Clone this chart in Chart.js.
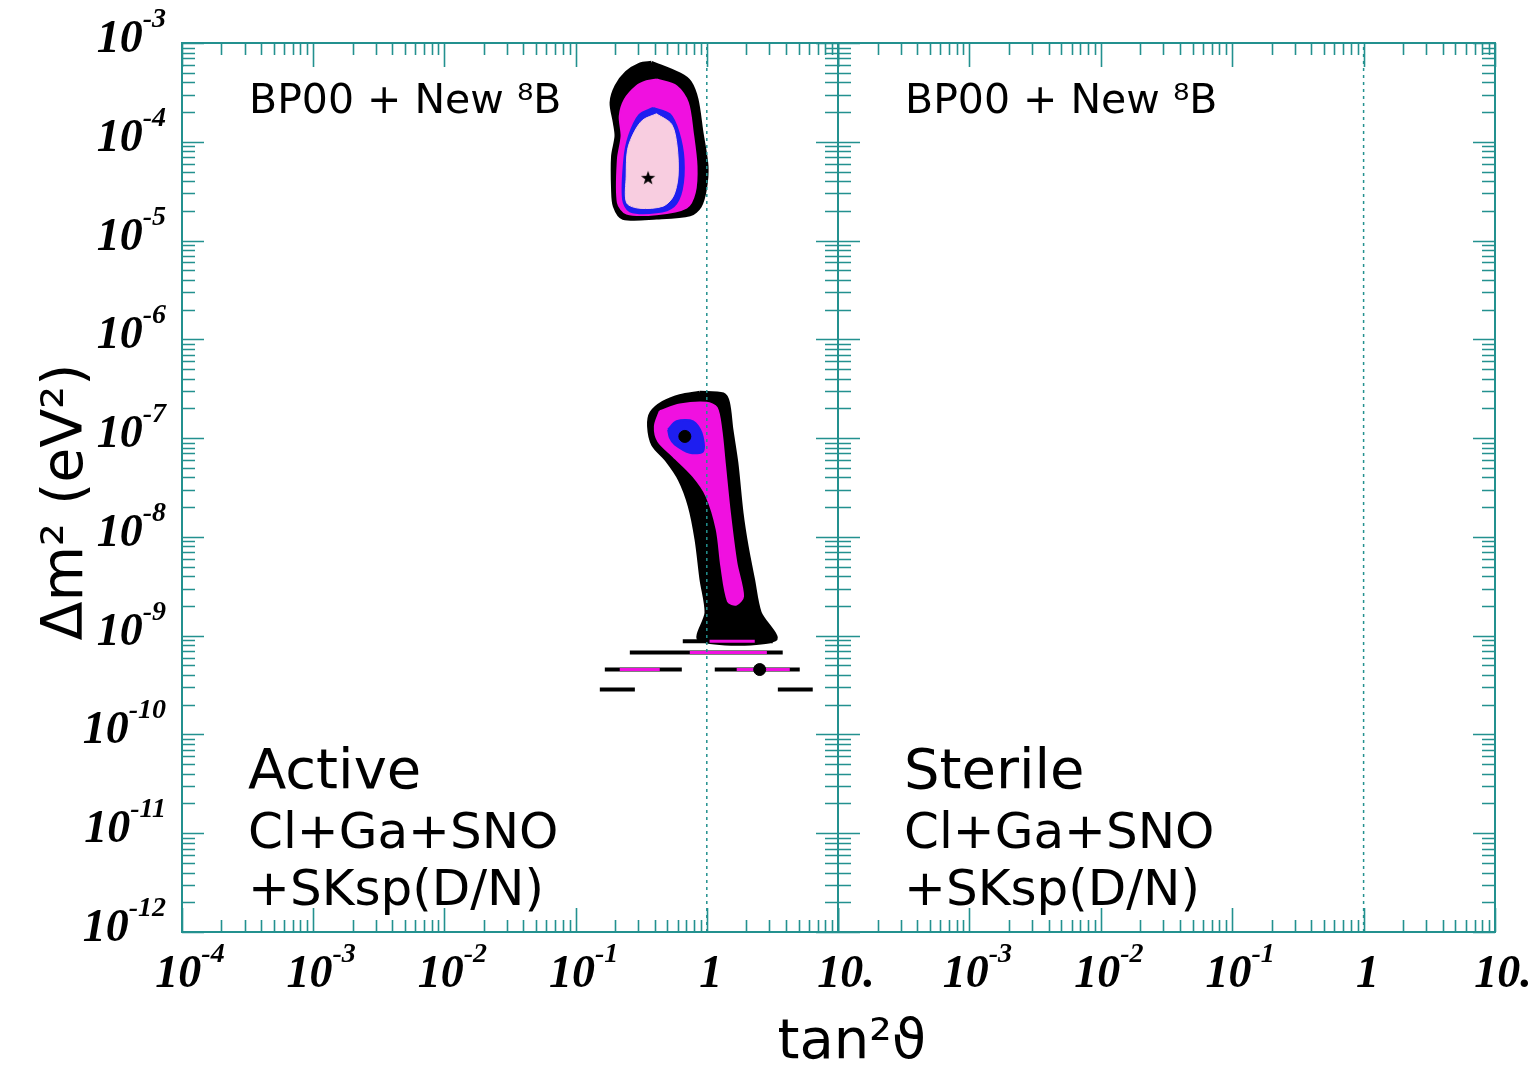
<!DOCTYPE html>
<html>
<head>
<meta charset="utf-8">
<script src="https://cdn.jsdelivr.net/npm/chart.js@4.4.0/dist/chart.umd.min.js"></script>
<style>
html, body { margin: 0; padding: 0; background: #fff; }
#wrap { position: relative; width: 1537px; height: 1069px; }
canvas { position: absolute; top: 0; }
#left { left: 0; }
#right { left: 700px; }
</style>
</head>
<body>
<div id="wrap">
  <canvas id="left" width="1537" height="1069"></canvas>
  <canvas id="right" width="837" height="1069"></canvas>
</div>
<script>
// axes ranges (tan^2 theta , delta m^2 in eV^2)
const xMin = 1e-4, xMax = 10;
const yMin = 1e-12, yMax = 1e-3;

// tick labels : [value, base, exponent]
const xLabelsLeft  = [[1e-4, '10', '-4'], [1e-3, '10', '-3'], [1e-2, '10', '-2'], [1e-1, '10', '-1'], [1, '1', ''], [10, '10.', '']];
const xLabelsRight = [[1e-3, '10', '-3'], [1e-2, '10', '-2'], [1e-1, '10', '-1'], [1, '1', ''], [10, '10.', '']];
const yLabels = [[1e-3, '10', '-3'], [1e-4, '10', '-4'], [1e-5, '10', '-5'], [1e-6, '10', '-6'], [1e-7, '10', '-7'],
                 [1e-8, '10', '-8'], [1e-9, '10', '-9'], [1e-10, '10', '-10'], [1e-11, '10', '-11'], [1e-12, '10', '-12']];

// maximal mixing line
const refX = 1;

// LMA island  (99.73% black, 99% magenta, 95% blue, 90% pink)
const upperBlack = [[0.379,6.3e-4],[0.623,4.8e-4],[0.742,4.0e-4],[0.835,2.68e-4],[0.911,1.24e-4],[0.995,5.66e-5],[0.966,3.29e-5],
  [0.884,2.23e-5],[0.742,1.84e-5],[0.414,1.71e-5],[0.230,1.70e-5],[0.199,2.23e-5],[0.193,3.29e-5],[0.193,7.15e-5],[0.205,1.14e-4],
  [0.199,1.57e-4],[0.188,2.50e-4],[0.205,3.65e-4],[0.245,4.99e-4],[0.309,6.06e-4]];
const upperMagenta = [[0.414,4.27e-4],[0.588,3.65e-4],[0.717,2.50e-4],[0.782,1.24e-4],[0.835,5.66e-5],[0.810,3.07e-5],[0.700,2.16e-5],
  [0.414,1.85e-5],[0.245,1.88e-5],[0.210,2.43e-5],[0.210,6.62e-5],[0.224,1.14e-4],[0.217,1.82e-4],[0.237,2.68e-4],[0.291,3.65e-4],[0.347,4.10e-4]];
const upperBlue = [[0.390,2.20e-4],[0.523,1.90e-4],[0.610,1.24e-4],[0.665,6.62e-5],[0.645,3.29e-5],[0.560,2.23e-5],[0.414,1.93e-5],
  [0.259,1.98e-5],[0.230,2.61e-5],[0.235,6.62e-5],[0.255,1.14e-4],[0.305,1.86e-4]];
const upperPink = [[0.414,1.92e-4],[0.540,1.50e-4],[0.594,9.02e-5],[0.604,4.49e-5],[0.556,2.81e-5],[0.465,2.23e-5],[0.309,2.12e-5],
  [0.245,2.41e-5],[0.243,4.49e-5],[0.249,8.35e-5],[0.280,1.26e-4],[0.325,1.66e-4]];

// LOW island
const lowBlack = [[0.884,2.88e-7],[1.33,2.77e-7],[1.45,2.28e-7],[1.54,1.22e-7],[1.68,5.62e-8],[1.84,1.75e-8],[2.01,8.05e-9],[2.25,3.71e-9],
  [2.53,1.71e-9],[3.30,9.15e-10],[0.884,9.15e-10],[0.995,1.71e-9],[0.911,3.71e-9],[0.835,9.42e-9],[0.742,2.05e-8],[0.623,3.81e-8],
  [0.493,6.07e-8],[0.390,8.61e-8],[0.363,1.32e-7],[0.379,1.80e-7],[0.465,2.28e-7],[0.623,2.66e-7]];
const lowMagenta = [[0.438,1.87e-7],[0.623,2.19e-7],[0.995,2.28e-7],[1.19,2.03e-7],[1.29,1.22e-7],[1.37,5.62e-8],[1.50,1.75e-8],[1.68,5.47e-9],
  [1.89,2.51e-9],[1.68,2.07e-9],[1.45,2.23e-9],[1.29,5.05e-9],[1.19,1.19e-8],[0.995,2.58e-8],[0.787,4.12e-8],[0.554,6.56e-8],[0.426,9.31e-8],[0.402,1.32e-7]];
const lowBlue = [[0.507,1.22e-7],[0.588,1.48e-7],[0.787,1.48e-7],[0.911,1.13e-7],[0.937,7.38e-8],[0.742,7.10e-8],[0.570,8.61e-8],[0.523,1.01e-7]];

// vacuum oscillation strips [xFrom, xTo, dm2]
const stripsBlack = [[0.656,3.18,8.79e-10],[0.259,3.79,6.76e-10],[0.167,0.645,4.54e-10],[1.15,5.11,4.54e-10],[0.153,0.283,2.85e-10],[3.48,6.42,2.85e-10]];
const stripsMagenta = [[1.05,2.32,8.79e-10],[0.742,2.87,6.76e-10],[0.217,0.438,4.54e-10],[1.69,4.29,4.54e-10]];

// best fit points
const bestStar = [[0.357,4.32e-5]];
const bestDots = [[0.680,1.04e-7],[2.53,4.54e-10]];

const teal = '#23918f';
const cBlack = '#000000', cMagenta = '#f010e0', cBlue = '#1e1ef0', cPink = '#f8cde0';

function pts(list) { return list.map(p => ({x: p[0], y: p[1]})); }

function region(list, color, order, bw) {
  return {data: pts(list.concat([list[0]])), showLine: true, fill: 'shape', backgroundColor: color,
    borderColor: color, borderWidth: bw, pointRadius: 0, tension: 0.3, order: order};
}
function strip(s, color, width, order) {
  return {data: [{x: s[0], y: s[2]}, {x: s[1], y: s[2]}], showLine: true, fill: false,
    borderColor: color, borderWidth: width, pointRadius: 0, order: order};
}
function refLine() {
  return {data: [{x: refX, y: yMin}, {x: refX, y: yMax}], showLine: true, fill: false, borderColor: teal,
    borderWidth: 1.5, borderDash: [3, 4], pointRadius: 0, order: -1};
}

// 5 point star marker
const starImg = document.createElement('canvas');
starImg.width = 16; starImg.height = 16;
(function () {
  const c = starImg.getContext('2d');
  c.beginPath();
  for (let i = 0; i < 10; i++) {
    const r = i % 2 ? 3 : 7.5, a = -Math.PI / 2 + i * Math.PI / 5;
    c.lineTo(8 + r * Math.cos(a), 8.5 + r * Math.sin(a));
  }
  c.closePath(); c.fillStyle = '#000'; c.fill();
})();

function logTicks(min, max) {
  const out = [];
  for (let e = Math.floor(Math.log10(min)); e <= Math.ceil(Math.log10(max)); e++) {
    for (let k = 1; k <= 9; k++) {
      const v = k * Math.pow(10, e);
      if (v < min * 0.999 || v > max * 1.001) continue;
      out.push({v: v, major: k === 1});
    }
  }
  return out;
}

const bigFont = 'italic bold 46px "Liberation Serif"';
const expFont = 'italic bold 28px "Liberation Serif"';

function powLabel(ctx, base, exp, x, y, align) {
  ctx.font = bigFont;
  const wb = ctx.measureText(base).width;
  ctx.font = expFont;
  const we = exp ? ctx.measureText(exp).width : 0;
  const x0 = align === 'right' ? x - wb - we : x - (wb + we) / 2;
  ctx.font = bigFont;
  ctx.fillText(base, x0, y);
  if (exp) { ctx.font = expFont; ctx.fillText(exp, x0 + wb, y - 25); }
}

const framePlugin = {
  id: 'frame',
  afterDraw(chart, args, o) {
    const ctx = chart.ctx, a = chart.chartArea, xs = chart.scales.x, ys = chart.scales.y;
    ctx.save();
    ctx.strokeStyle = teal;
    ctx.lineWidth = 2;
    ctx.strokeRect(a.left, a.top, a.right - a.left, a.bottom - a.top);
    ctx.lineWidth = 1.6;
    ctx.beginPath();
    logTicks(xs.min, xs.max).forEach(t => {
      const p = Math.round(xs.getPixelForValue(t.v)) + 0.5, len = t.major ? 24 : 12;
      ctx.moveTo(p, a.bottom); ctx.lineTo(p, a.bottom - len);
      ctx.moveTo(p, a.top); ctx.lineTo(p, a.top + len);
    });
    logTicks(ys.min, ys.max).forEach(t => {
      const p = Math.round(ys.getPixelForValue(t.v)) + 0.5, len = t.major ? 22 : 13;
      ctx.moveTo(a.left, p); ctx.lineTo(a.left + len, p);
      ctx.moveTo(a.right, p); ctx.lineTo(a.right - len, p);
    });
    ctx.stroke();

    ctx.fillStyle = '#000';
    ctx.textAlign = 'left';
    ctx.textBaseline = 'alphabetic';
    (o.xLabels || []).forEach(l => {
      const p = xs.getPixelForValue(l[0]);
      powLabel(ctx, l[1], l[2], p + (l[1] === '1' ? 4 : 8), a.bottom + 55, 'center');
    });
    (o.yLabels || []).forEach(l => {
      const p = ys.getPixelForValue(l[0]);
      powLabel(ctx, l[1], l[2], a.left - 16, p + 9, 'right');
    });

    (o.texts || []).forEach(t => {
      ctx.font = t.size + 'px "DejaVu Sans"';
      ctx.fillText(t.text, a.left + t.dx, t.y);
    });

    if (o.titles) {
      ctx.font = '57px "DejaVu Sans"';
      ctx.textAlign = 'center';
      ctx.save();
      ctx.translate(82, 502);
      ctx.rotate(-Math.PI / 2);
      ctx.fillText('Δm² (eV²)', 0, 0);
      ctx.restore();
      ctx.font = '56px "DejaVu Sans"';
      ctx.fillText('tan²ϑ', 852, 1058);
    }
    ctx.restore();
  }
};

function makeChart(id, datasets, frameOpts, target) {
  const canvas = document.getElementById(id);
  const padding = {left: target.left, top: target.top, right: canvas.width - target.right, bottom: canvas.height - target.bottom};
  const chart = new Chart(canvas, {
    type: 'scatter',
    data: {datasets: datasets},
    options: {
      responsive: false,
      animation: false,
      events: [],
      layout: {padding: padding},
      plugins: {legend: {display: false}, tooltip: {enabled: false}, frame: frameOpts},
      scales: {
        x: {type: 'logarithmic', min: xMin, max: xMax, display: false},
        y: {type: 'logarithmic', min: yMin, max: yMax, display: false}
      }
    },
    plugins: [framePlugin]
  });
  // put the plot box exactly where wanted
  const a = chart.chartArea, p = chart.options.layout.padding;
  if (a.left !== target.left || a.right !== target.right || a.top !== target.top || a.bottom !== target.bottom) {
    p.left += target.left - a.left; p.right += a.right - target.right;
    p.top += target.top - a.top; p.bottom += a.bottom - target.bottom;
    chart.update('none');
  }
  return chart;
}

const activeSets = [
  refLine(),
  {data: pts(bestStar), pointStyle: starImg, pointRadius: 8, showLine: false, order: 0},
  {data: pts(bestDots), pointStyle: 'circle', pointRadius: 6, backgroundColor: '#000', borderColor: '#000', showLine: false, order: 0},
  region(upperPink, cPink, 1, 1),
  region(upperBlue, cBlue, 2, 2),
  region(lowBlue, cBlue, 2, 2),
  region(upperMagenta, cMagenta, 3, 2),
  region(lowMagenta, cMagenta, 3, 2)
].concat(stripsMagenta.map(s => strip(s, cMagenta, 3, 3)))
 .concat([region(upperBlack, cBlack, 4, 4), region(lowBlack, cBlack, 4, 4)])
 .concat(stripsBlack.map(s => strip(s, cBlack, 4, 4)));

makeChart('left', activeSets, {
  xLabels: xLabelsLeft,
  yLabels: yLabels,
  titles: true,
  texts: [
    {text: 'BP00 + New ⁸B', dx: 67, y: 113, size: 41},
    {text: 'Active', dx: 66, y: 788, size: 56},
    {text: 'Cl+Ga+SNO', dx: 66, y: 848, size: 50},
    {text: '+SKsp(D/N)', dx: 66, y: 905, size: 50}
  ]
}, {left: 182, right: 838, top: 43, bottom: 932});

makeChart('right', [refLine()], {
  xLabels: xLabelsRight,
  texts: [
    {text: 'BP00 + New ⁸B', dx: 67, y: 113, size: 41},
    {text: 'Sterile', dx: 66, y: 788, size: 56},
    {text: 'Cl+Ga+SNO', dx: 66, y: 848, size: 50},
    {text: '+SKsp(D/N)', dx: 66, y: 905, size: 50}
  ]
}, {left: 138, right: 795, top: 43, bottom: 932});
</script>
</body>
</html>
